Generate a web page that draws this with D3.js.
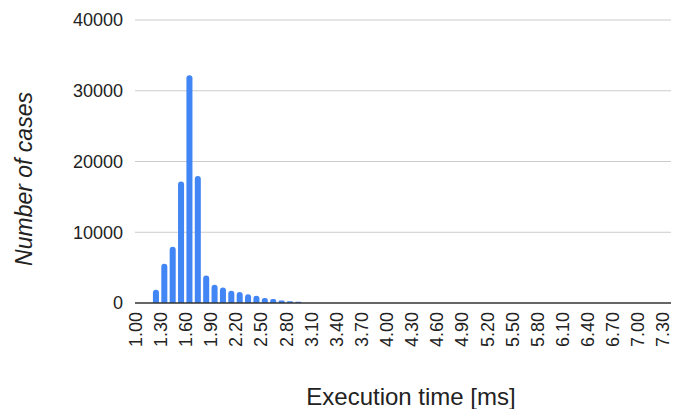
<!DOCTYPE html>
<html>
<head>
<meta charset="utf-8">
<script src="https://cdn.jsdelivr.net/npm/d3@7"></script>
<style>
  body { margin: 0; background: #fff; }
  svg text { font-family: "Liberation Sans", Arial, sans-serif; }
</style>
</head>
<body>
<script>
// Histogram bins: lower edge of each 0.1 ms bin that has cases
var binStarts = [1.2, 1.3, 1.4, 1.5, 1.6, 1.7, 1.8, 1.9, 2.0, 2.1, 2.2, 2.3, 2.4, 2.5, 2.6, 2.7, 2.8, 2.9];
var caseCounts = [1880, 5550, 7960, 17180, 32200, 17940, 3900, 2590, 2200, 1740, 1550, 1220, 1030, 710, 570, 370, 230, 180];
var xTicks = d3.range(0, 22).map(function(i) { return (1 + i * 0.3); });
var yTicks = [0, 10000, 20000, 30000, 40000];

var width = 673, height = 409;
var margin = { top: 20, right: 2, bottom: 106, left: 135 };

var svg = d3.select("body").append("svg")
  .attr("width", width)
  .attr("height", height);

// x is continuous, bins sit between edges
var x = d3.scaleLinear()
  .domain([1.0, 7.4])
  .range([margin.left, width - margin.right]);

var y = d3.scaleLinear()
  .domain([0, 40000])
  .range([height - margin.bottom, margin.top]);

// gridlines
svg.append("g")
  .selectAll("line")
  .data(yTicks.filter(function(d) { return d > 0; }))
  .enter().append("line")
  .attr("x1", margin.left)
  .attr("x2", width - margin.right)
  .attr("y1", function(d) { return y(d); })
  .attr("y2", function(d) { return y(d); })
  .attr("stroke", "#cccccc")
  .attr("stroke-width", 1);

// y axis labels
var yAxis = d3.axisLeft(y).tickValues(yTicks).tickSize(0).tickPadding(12)
  .tickFormat(d3.format("d"));
svg.append("g")
  .attr("transform", "translate(" + margin.left + ",0)")
  .call(yAxis)
  .call(function(g) { g.select(".domain").remove(); })
  .selectAll("text")
  .attr("font-size", 18)
  .attr("fill", "#222");

// bars
var binW = x(1.1) - x(1.0);
var barW = binW * 0.72;
svg.append("g")
  .selectAll("path")
  .data(binStarts.map(function(b, i) { return { b: b, v: caseCounts[i] }; }))
  .enter().append("path")
  .attr("fill", "#4285f4")
  .attr("d", function(d) {
    var cx = x(d.b + 0.05), x0 = cx - barW / 2, x1 = cx + barW / 2;
    var y0 = y(0), y1 = y(d.v);
    var r = Math.min(barW / 2, (y0 - y1) / 2, 3);
    return "M" + x0 + "," + y0 +
      "V" + (y1 + r) +
      "Q" + x0 + "," + y1 + " " + (x0 + r) + "," + y1 +
      "H" + (x1 - r) +
      "Q" + x1 + "," + y1 + " " + x1 + "," + (y1 + r) +
      "V" + y0 + "Z";
  });

// baseline
svg.append("line")
  .attr("x1", margin.left)
  .attr("x2", width - margin.right)
  .attr("y1", y(0))
  .attr("y2", y(0))
  .attr("stroke", "#333")
  .attr("stroke-width", 1.3);

// x axis labels, rotated
var xAxis = d3.axisBottom(x).tickValues(xTicks).tickSize(0)
  .tickFormat(d3.format(".2f"));
svg.append("g")
  .attr("transform", "translate(0," + y(0) + ")")
  .call(xAxis)
  .call(function(g) { g.select(".domain").remove(); })
  .selectAll("text")
  .attr("font-size", 18)
  .attr("fill", "#222")
  .attr("transform", "rotate(-90)")
  .attr("text-anchor", "end")
  .attr("x", -9)
  .attr("y", 0)
  .attr("dy", "0.35em");

// axis titles
svg.append("text")
  .attr("x", 411)
  .attr("y", 405)
  .attr("text-anchor", "middle")
  .attr("font-size", 24)
  .attr("fill", "#222")
  .text("Execution time [ms]");

svg.append("text")
  .attr("transform", "translate(32,179) rotate(-90)")
  .attr("text-anchor", "middle")
  .attr("font-size", 23)
  .attr("font-style", "italic")
  .attr("fill", "#222")
  .text("Number of cases");
</script>
</body>
</html>
